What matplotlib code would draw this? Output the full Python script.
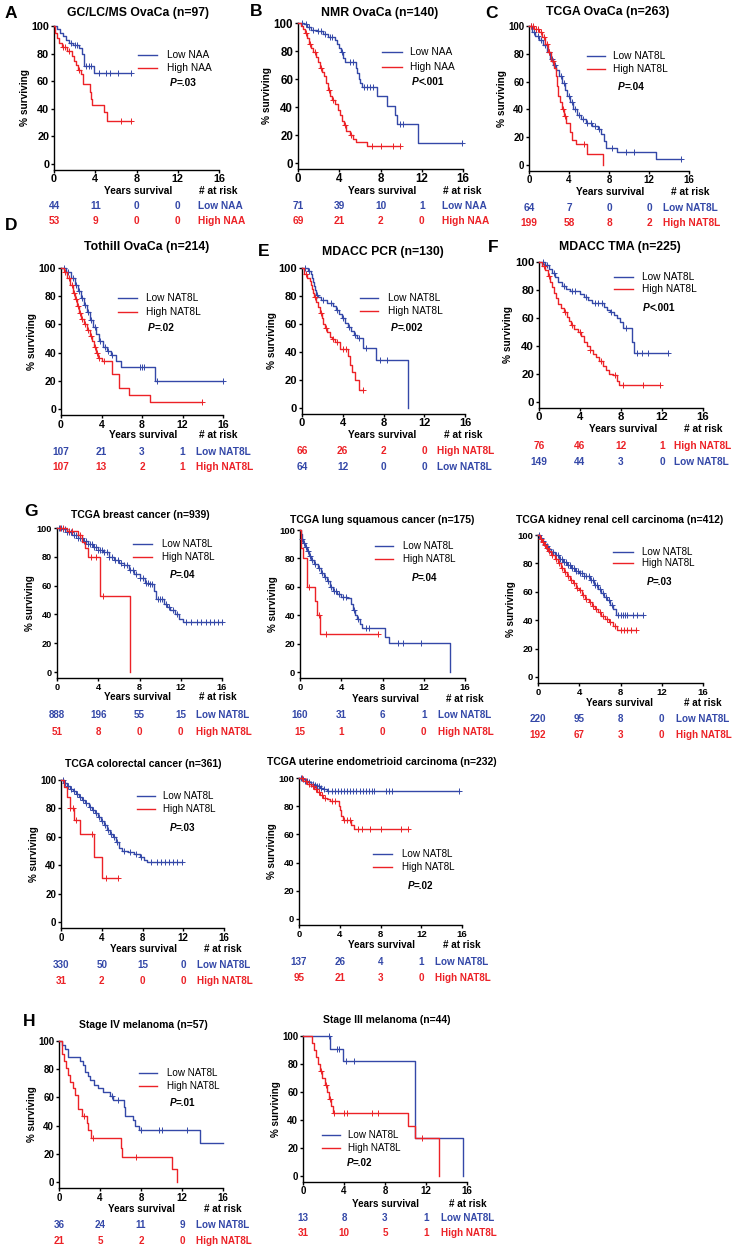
import numpy as np
import matplotlib
matplotlib.use('Agg')
import matplotlib.pyplot as plt
from matplotlib.lines import Line2D
from matplotlib.transforms import blended_transform_factory

plt.rcParams['font.family'] = ['Liberation Sans', 'DejaVu Sans']

W, H = 735, 1250
BLUE = '#3448a8'
RED = '#ec2227'

# ---------------- data (times in years, survival in %) ----------------
# A  GC/LC/MS OvaCa
a_low_t = [0, 0.3, 0.6, 0.9, 1.2, 1.5, 1.8, 2.4, 2.7, 2.9, 3.9]
a_low_s = [100, 98, 95, 93, 90, 88, 86, 84, 80, 71, 66]
a_low_cens = [1.6, 2.0, 2.2, 3.1, 3.4, 3.6, 4.4, 5.0, 5.4, 6.2, 7.5]
a_high_t = [0, 0.1, 0.25, 0.5, 0.8, 1.3, 1.7, 1.9, 2.1, 2.3, 2.6, 2.8, 3.5, 3.6, 3.7, 4.8, 5.1]
a_high_s = [100, 95, 91, 88, 85, 82, 78, 75, 72, 68, 65, 58, 52, 47, 43, 38, 31]
a_high_cens = [0.9, 1.1, 1.5, 2.4, 6.5, 7.5]
risk_a_low = [44, 11, 0, 0]
risk_a_high = [53, 9, 0, 0]

# B  NMR OvaCa
b_low_t = [0, 0.6, 0.9, 1.3, 1.8, 2.4, 2.9, 3.6, 3.8, 4.0, 4.2, 4.4, 4.6, 5.6, 5.75, 5.9, 6.05, 6.2, 7.7, 8.6, 9.4, 9.6, 11.6]
b_low_s = [100, 99, 97, 95, 94, 92, 90, 88, 85, 82, 79, 75, 72, 68, 64, 60, 57, 54, 48, 41, 34, 28, 14]
b_low_cens = [0.4, 0.8, 1.1, 1.5, 1.9, 2.2, 2.6, 3.1, 3.3, 4.3, 5.0, 5.3, 6.4, 6.7, 7.0, 7.3, 9.9, 10.2, 15.9]
b_high_t = [0, 0.3, 0.5, 0.7, 0.9, 1.1, 1.3, 1.5, 1.7, 1.9, 2.1, 2.3, 2.5, 2.7, 2.9, 3.1, 3.3, 3.6, 3.9, 4.1, 4.3, 4.5, 4.7, 5.0, 5.3, 5.6, 6.7]
b_high_s = [100, 98, 96, 93, 89, 85, 82, 79, 76, 72, 68, 65, 62, 57, 52, 48, 45, 42, 38, 34, 30, 27, 23, 20, 17, 15, 12]
b_high_cens = [0.8, 1.2, 1.6, 2.2, 3.0, 3.4, 4.6, 5.1, 7.2, 8.0, 9.2, 9.9]
risk_b_low = [71, 39, 10, 1]
risk_b_high = [69, 21, 2, 0]

# C  TCGA OvaCa
c_low_t = [0, 0.3, 0.6, 1.0, 1.4, 1.8, 2.1, 2.4, 2.7, 3.0, 3.3, 3.6, 3.8, 4.1, 4.4, 4.8, 5.2, 5.7, 6.3, 6.9, 7.2, 7.5, 7.7, 8.8, 12.7]
c_low_s = [100, 96, 93, 90, 86, 81, 76, 72, 68, 64, 59, 54, 50, 45, 40, 36, 33, 30, 28, 26, 22, 17, 12, 9, 4]
c_low_cens = [0.2, 0.5, 0.9, 1.2, 1.6, 2.0, 2.3, 2.6, 3.2, 3.5, 4.0, 4.3, 4.6, 5.0, 5.4, 5.8, 6.2, 6.6, 7.0, 8.3, 9.7, 10.5, 15.2]
c_high_t = [0, 0.5, 1.0, 1.3, 1.6, 1.9, 2.2, 2.5, 2.7, 2.8, 2.9, 3.1, 3.3, 3.5, 3.7, 4.1, 4.3, 4.7, 5.8, 7.4]
c_high_s = [100, 98, 96, 92, 87, 81, 75, 70, 64, 57, 50, 45, 40, 35, 30, 24, 18, 15, 8, 0]
c_high_cens = [0.2, 0.4, 0.7, 0.9, 1.2, 1.5, 1.8, 2.0, 2.4, 3.4, 3.6, 5.5]
risk_c_low = [64, 7, 0, 0]
risk_c_high = [199, 58, 8, 2]

# D  Tothill OvaCa
d_low_t = [0, 0.5, 1.0, 1.4, 1.7, 2.0, 2.3, 2.6, 2.9, 3.2, 3.5, 3.8, 4.1, 4.5, 4.9, 5.4, 5.9, 9.3]
d_low_s = [100, 97, 93, 88, 84, 79, 74, 69, 63, 58, 53, 48, 44, 41, 38, 34, 30, 20]
d_low_cens = [0.3, 0.7, 1.2, 1.5, 1.8, 2.1, 2.4, 2.7, 3.0, 3.4, 3.9, 4.3, 4.6, 5.0, 7.8, 8.0, 8.2, 9.5, 16]
d_high_t = [0, 0.3, 0.6, 0.9, 1.2, 1.4, 1.6, 1.8, 2.0, 2.3, 2.6, 2.9, 3.1, 3.3, 3.5, 3.7, 4.0, 5.0, 5.75, 6.7, 8.8]
d_high_s = [100, 97, 93, 88, 82, 78, 73, 68, 64, 60, 56, 52, 48, 44, 40, 36, 34, 24.5, 15, 10, 5]
d_high_cens = [0.4, 0.8, 1.1, 1.3, 1.5, 1.7, 1.9, 2.1, 2.4, 2.7, 3.0, 3.4, 3.6, 3.8, 4.2, 13.9]
risk_d_low = [107, 21, 3, 1]
risk_d_high = [107, 13, 2, 1]

# E  MDACC PCR
e_low_t = [0, 0.6, 0.9, 1.0, 1.1, 1.2, 1.3, 1.4, 1.6, 1.9, 2.5, 3.0, 3.3, 3.6, 3.9, 4.2, 4.5, 4.8, 5.1, 5.4, 6.0, 7.3, 10.4]
e_low_s = [100, 98, 96, 93, 90, 87, 84, 81, 79, 77, 75, 73, 70, 67, 64, 61, 58, 55, 52, 50, 43, 34, 0]
e_low_cens = [0.3, 0.7, 1.5, 2.1, 2.8, 3.4, 4.0, 4.6, 5.2, 5.6, 6.3, 7.7, 8.3]
e_high_t = [0, 0.2, 0.5, 0.8, 0.9, 1.0, 1.1, 1.2, 1.4, 1.6, 1.8, 2.0, 2.1, 2.3, 2.5, 2.7, 2.9, 3.2, 3.7, 4.5, 4.7, 4.9, 5.2, 5.6]
e_high_s = [100, 96, 93, 91, 88, 85, 82, 79, 76, 72, 68, 64, 60, 57, 54, 51, 49, 47, 42, 37, 31, 26, 20, 13]
e_high_cens = [0.4, 1.3, 1.9, 2.4, 3.0, 3.4, 4.0, 4.3, 6.0]
risk_e_high = [66, 26, 2, 0]
risk_e_low = [64, 12, 0, 0]

# F  MDACC TMA
f_low_t = [0, 0.6, 1.0, 1.3, 1.6, 1.9, 2.2, 2.6, 3.0, 4.0, 4.4, 4.8, 5.2, 6.3, 6.6, 6.9, 7.3, 7.6, 7.9, 8.2, 9.1, 9.25]
f_low_s = [100, 98, 95, 92, 89, 86, 83, 81, 79, 77, 75, 73, 71, 68, 66, 64, 62, 60, 57, 53, 43, 35]
f_low_cens = [0.4, 0.8, 1.5, 2.4, 3.2, 3.5, 4.6, 5.5, 5.8, 6.1, 7.0, 8.5, 9.6, 10.0, 10.6, 12.6]
f_high_t = [0, 0.3, 0.6, 0.9, 1.1, 1.3, 1.5, 1.7, 1.9, 2.1, 2.4, 2.7, 2.9, 3.1, 3.4, 3.8, 4.1, 4.4, 4.7, 5.0, 5.3, 5.6, 5.9, 6.2, 6.5, 6.8, 7.2, 7.6, 7.8]
f_high_s = [100, 97, 94, 90, 86, 82, 78, 74, 70, 67, 64, 61, 58, 55, 52, 50, 47, 43, 40, 37, 34, 32, 29, 26, 23, 20, 19, 15, 12]
f_high_cens = [0.5, 1.0, 2.5, 3.2, 4.0, 5.0, 6.0, 7.4, 8.2, 10.1, 11.8]
risk_f_high = [76, 46, 12, 1]
risk_f_low = [149, 44, 3, 0]

# G  TCGA breast
br_low_t = [0, 0.5, 1.0, 1.5, 2.0, 2.5, 3.0, 3.5, 4.0, 4.5, 5.0, 5.5, 6.0, 6.5, 7.0, 7.5, 8.0, 8.5, 9.0, 9.4, 9.6, 10.4, 10.7, 11.0, 11.4, 11.8, 12.2]
br_low_s = [100, 99, 97, 95, 93, 91, 89, 87, 85, 83, 80, 78, 76, 74, 71, 68, 65, 62, 61, 56, 51, 47, 45, 43, 40, 37, 35]
br_low_cens = [0.2, 0.4, 0.6, 0.8, 1.0, 1.2, 1.4, 1.6, 1.8, 2.0, 2.2, 2.4, 2.6, 2.8, 3.0, 3.2, 3.4, 3.6, 3.8,
               4.0, 4.2, 4.4, 4.6, 4.8, 5.0, 5.3, 5.6, 5.9, 6.2, 6.5, 6.8, 7.1, 7.4, 7.7, 8.0, 8.3, 8.6, 8.8,
               9.0, 9.2, 9.8, 10.0, 10.2, 10.6, 10.9, 11.2, 11.6, 12.5, 13.0, 13.6, 14.0, 14.4, 14.8, 15.2, 15.6, 16.0]
br_high_t = [0, 1.0, 2.0, 2.4, 2.7, 3.0, 4.2, 7.1]
br_high_s = [100, 98, 95, 90, 86, 80, 53, 0]
br_high_cens = [0.3, 0.6, 1.2, 1.5, 2.2, 3.3, 3.8, 4.5]
risk_br_low = [888, 196, 55, 15]
risk_br_high = [51, 8, 0, 0]

# G  TCGA lung squamous
lu_low_t = [0, 0.1, 0.2, 0.3, 0.5, 0.7, 0.9, 1.1, 1.4, 1.7, 2.0, 2.3, 2.6, 2.9, 3.2, 3.6, 4.0, 4.6, 4.9, 5.1, 5.3, 5.5, 5.8, 6.0, 8.2, 8.65, 14.5]
lu_low_s = [100, 97, 94, 91, 88, 85, 82, 79, 76, 73, 70, 67, 64, 60, 57, 55, 53, 52, 48, 44, 40, 37, 34, 31, 25, 20.5, 0]
lu_low_cens = [0.2, 0.4, 0.6, 0.8, 1.0, 1.2, 1.5, 1.8, 2.1, 2.4, 2.7, 3.0, 3.3, 3.5, 3.8, 4.2, 4.5, 5.2, 5.6, 6.4, 6.7, 9.5, 10.0, 11.7]
lu_high_t = [0, 0.1, 0.3, 0.7, 1.45, 1.6, 1.9]
lu_high_s = [100, 87, 80, 60, 50, 40, 27]
lu_high_cens = [0.9, 1.8, 2.5, 7.6]
risk_lu_low = [160, 31, 6, 1]
risk_lu_high = [15, 1, 0, 0]

# G  TCGA kidney renal cell
ki_low_t = [0, 0.2, 0.4, 0.6, 0.8, 1.0, 1.3, 1.6, 2.0, 2.4, 2.8, 3.2, 3.6, 4.0, 4.5, 5.0, 5.4, 5.8, 6.1, 6.4, 6.7, 7.0, 7.3, 7.6]
ki_low_s = [100, 98, 96, 94, 92, 90, 88, 86, 83, 81, 79, 77, 75, 73, 71, 68, 65, 62, 59, 56, 54, 51, 48, 44]
ki_low_cens = [0.1, 0.3, 0.5, 0.7, 0.9, 1.1, 1.3, 1.5, 1.7, 1.9, 2.1, 2.3, 2.5, 2.7, 2.9, 3.1, 3.3, 3.5, 3.7,
               3.9, 4.1, 4.3, 4.5, 4.7, 4.9, 5.1, 5.3, 5.5, 5.7, 6.0, 6.3, 6.6, 6.9, 7.2, 7.8, 8.0, 8.2, 8.4,
               8.6, 9.2, 9.6, 10.2]
ki_high_t = [0, 0.2, 0.4, 0.6, 0.8, 1.0, 1.3, 1.6, 1.9, 2.2, 2.5, 2.8, 3.1, 3.4, 3.7, 4.0, 4.3, 4.6, 4.9, 5.2, 5.5, 5.8, 6.1, 6.5, 6.9, 7.3, 7.7]
ki_high_s = [100, 97, 95, 93, 91, 89, 86, 83, 80, 77, 74, 71, 68, 66, 63, 61, 58, 55, 53, 50, 48, 46, 43, 41, 39, 36, 33]
ki_high_cens = [0.3, 0.5, 0.7, 0.9, 1.1, 1.4, 1.7, 2.0, 2.3, 2.6, 2.9, 3.2, 3.5, 3.8, 4.1, 4.4, 4.7, 5.0,
                5.3, 5.6, 6.0, 6.3, 6.7, 7.0, 7.5, 8.0, 8.3, 8.6, 9.0, 9.5]
risk_ki_low = [220, 95, 8, 0]
risk_ki_high = [192, 67, 3, 0]

# G  TCGA colorectal
co_low_t = [0, 0.3, 0.6, 0.9, 1.2, 1.5, 1.8, 2.1, 2.4, 2.7, 3.0, 3.3, 3.6, 3.9, 4.2, 4.5, 4.8, 5.1, 5.4, 5.7, 6.0, 6.6, 7.2, 7.8, 8.1, 8.4]
co_low_s = [100, 98, 96, 94, 92, 90, 88, 86, 84, 81, 79, 77, 74, 71, 68, 65, 62, 60, 56, 52, 50, 49, 48, 46, 44, 42]
co_low_cens = [0.2, 0.4, 0.7, 1.0, 1.3, 1.6, 1.9, 2.2, 2.5, 2.8, 3.1, 3.4, 3.7, 4.0, 4.3, 4.6, 4.9, 5.2,
               5.5, 6.2, 6.8, 7.4, 7.9, 8.8, 9.4, 9.8, 10.2, 10.6, 11.0, 11.4, 11.9]
co_high_t = [0, 0.3, 0.6, 0.9, 1.3, 1.9, 3.2, 4.0]
co_high_s = [100, 95, 88, 80, 72, 62, 46, 31]
co_high_cens = [0.9, 1.2, 1.5, 3.0, 4.4, 5.6]
risk_co_low = [330, 50, 15, 0]
risk_co_high = [31, 2, 0, 0]

# G  TCGA uterine endometrioid
ut_low_t = [0, 0.3, 0.6, 0.9, 1.2, 1.5, 1.8, 2.1, 2.4, 2.7, 3.0]
ut_low_s = [100, 99, 98, 97, 96, 95, 94, 93, 92, 91, 90.5]
ut_low_cens = [0.2, 0.4, 0.6, 0.8, 1.0, 1.2, 1.4, 1.6, 1.8, 2.0, 2.2, 2.5, 2.8, 3.2, 3.5, 3.8, 4.1, 4.4,
               4.7, 5.0, 5.3, 5.6, 6.0, 6.3, 6.6, 6.9, 7.2, 7.4, 8.5, 8.8, 9.1, 15.7]
ut_high_t = [0, 0.4, 0.8, 1.2, 1.5, 1.8, 2.1, 2.4, 2.7, 3.0, 3.9, 4.0, 4.1, 4.3, 5.1, 5.4]
ut_high_s = [100, 98, 96, 94, 92, 90, 88, 86, 85, 84, 80, 77, 73, 70, 67, 64]
ut_high_cens = [0.3, 0.7, 1.0, 1.4, 1.7, 2.0, 2.3, 2.6, 3.2, 3.5, 4.4, 4.7, 5.0, 5.8, 6.2, 7.0, 8.0, 10.0, 10.7]
risk_ut_low = [137, 26, 4, 1]
risk_ut_high = [95, 21, 3, 0]

# H  Stage IV melanoma
m4_low_t = [0, 0.3, 0.6, 0.9, 2.0, 2.3, 2.5, 2.8, 3.0, 3.4, 3.8, 4.3, 5.0, 5.3, 6.3, 6.45, 7.2, 7.4, 7.8, 13.8]
m4_low_s = [100, 97, 94, 89, 86, 83, 78, 75, 72, 69, 67, 64, 61, 58, 53, 47, 44, 40, 37, 28]
m4_low_cens = [5.2, 5.8, 8.0, 9.8, 10.0, 12.5]
m4_high_t = [0, 0.3, 0.5, 0.7, 0.9, 1.1, 1.4, 1.6, 1.9, 2.2, 2.75, 2.85, 3.15, 6.0, 6.15, 11.0, 11.5]
m4_high_s = [100, 91, 86, 81, 76, 71, 67, 62, 52, 47, 42, 37, 31, 24, 18, 9, 0]
m4_high_cens = [2.4, 3.3, 7.5]
risk_m4_low = [36, 24, 11, 9]
risk_m4_high = [21, 5, 2, 0]

# H  Stage III melanoma
m3_low_t = [0, 2.6, 3.9, 10.9, 15.6]
m3_low_s = [100, 91, 82, 27, 0]
m3_low_cens = [2.5, 3.3, 3.5, 4.2, 5.0]
m3_high_t = [0, 0.9, 1.1, 1.3, 1.5, 1.7, 1.9, 2.1, 2.3, 2.5, 2.7, 2.9, 10.2, 10.9, 13.3]
m3_high_s = [100, 95, 90, 85, 80, 75, 70, 65, 60, 55, 50, 45, 36, 27, 0]
m3_high_cens = [1.8, 2.2, 2.6, 3.0, 4.0, 4.3, 6.7, 7.3, 11.6]
risk_m3_low = [13, 8, 3, 1]
risk_m3_high = [31, 10, 5, 1]

fig = plt.figure(figsize=(W / 100, H / 100), dpi=100)


def fy(y):
    return 1 - y / H


def km(ax, t, s, end, cens, color, ms):
    tt = list(t) + [end]
    ss = list(s) + [s[-1]]
    ax.step(tt, ss, where='post', color=color, lw=1.0, clip_on=False, zorder=3)
    ta = np.array(t)
    sa = np.array(s)
    cy = [sa[np.searchsorted(ta, c, side='right') - 1] for c in cens]
    ax.plot(cens, cy, ls='none', marker='+', ms=ms, mew=0.7, color=color, clip_on=False, zorder=3)


def panel(geom, tks, fs, tfs, title, tpos, low, high, names, leg, ptxt, ppos, ys, riskx, rows, labx):
    x0, x16, y100, y0 = geom
    k = (y0 - y100) / 100
    ybot = y0 + 4 * k
    ax = fig.add_axes([x0 / W, fy(ybot), (x16 - x0) / W, (ybot - y100) / H])
    ax.set_xlim(0, 16)
    ax.set_ylim(-4, 100)
    ms = tks * 0.6
    km(ax, *low, BLUE, ms)
    km(ax, *high, RED, ms)
    ax.spines[['top', 'right']].set_visible(False)
    ax.spines[['left', 'bottom']].set_linewidth(1.0)
    ax.set_xticks([0, 4, 8, 12, 16])
    ax.set_yticks([0, 20, 40, 60, 80, 100])
    ax.tick_params(length=2.5, width=1.0, labelsize=tks, pad=1)
    for lb in ax.get_xticklabels() + ax.get_yticklabels():
        lb.set_fontweight('bold')
    ax.set_ylabel('% surviving', fontsize=fs, fontweight='bold', labelpad=1)

    fig.text(tpos[0] / W, fy(tpos[1]), title, ha='center', va='center', fontsize=tfs, fontweight='bold')

    x1, x2, ya, yb, xt = leg
    for y, c, nm in ((ya, BLUE, names[0]), (yb, RED, names[1])):
        fig.add_artist(Line2D([x1 / W, x2 / W], [fy(y), fy(y)], color=c, lw=1.0))
        fig.text(xt / W, fy(y), nm, ha='left', va='center', fontsize=fs)

    fig.text(ppos[0] / W, fy(ppos[1]), 'P', ha='left', va='center', fontsize=fs,
             fontweight='bold', style='italic')
    fig.text((ppos[0] + 0.62 * fs * 100 / 72) / W, fy(ppos[1]), ptxt, ha='left', va='center',
             fontsize=fs, fontweight='bold')

    fig.text(ys[0] / W, fy(ys[1]), 'Years survival', ha='center', va='center', fontsize=fs, fontweight='bold')
    fig.text(riskx / W, fy(ys[1]), '# at risk', ha='center', va='center', fontsize=fs, fontweight='bold')

    tr = blended_transform_factory(ax.transData, fig.transFigure)
    for vals, nm, c, y in rows:
        for xv, v in zip([0, 4, 8, 12], vals):
            ax.text(xv, fy(y), str(v), transform=tr, ha='center', va='center', color=c,
                    fontsize=fs, fontweight='bold')
        fig.text(labx / W, fy(y), nm, ha='left', va='center', color=c, fontsize=fs, fontweight='bold')
    return ax


NAA = ('Low NAA', 'High NAA')
NAT = ('Low NAT8L', 'High NAT8L')
T1, S1 = 8.8, 7.3   # title / text size, ovarian rows
T2, S2 = 7.5, 7.1   # title / text size, G and H

panel((54, 219, 26, 164), 7.8, S1, T1, 'GC/LC/MS OvaCa (n=97)', (138, 13),
      (a_low_t, a_low_s, 7.5, a_low_cens), (a_high_t, a_high_s, 7.5, a_high_cens), NAA,
      (138, 157, 55, 68, 167), '=.03', (170, 83), (138, 191), 218,
      [(risk_a_low, 'Low NAA', BLUE, 206), (risk_a_high, 'High NAA', RED, 221)], 198)

panel((298, 463, 23, 163), 8.3, S1, T1, 'NMR OvaCa (n=140)', (380, 13),
      (b_low_t, b_low_s, 15.9, b_low_cens), (b_high_t, b_high_s, 9.9, b_high_cens), NAA,
      (382, 402, 52, 67, 410), '<.001', (412, 82), (382, 191), 462,
      [(risk_b_low, 'Low NAA', BLUE, 206), (risk_b_high, 'High NAA', RED, 221)], 442)

panel((529, 689, 26, 165), 7.0, S1, T1, 'TCGA OvaCa (n=263)', (608, 12),
      (c_low_t, c_low_s, 15.2, c_low_cens), (c_high_t, c_high_s, 7.4, c_high_cens), NAT,
      (587, 605, 56, 69, 613), '=.04', (618, 87), (610, 192), 690,
      [(risk_c_low, 'Low NAT8L', BLUE, 208), (risk_c_high, 'High NAT8L', RED, 223)], 663)

panel((61, 223, 268, 409), 7.6, S1, T1, 'Tothill OvaCa (n=214)', (147, 247),
      (d_low_t, d_low_s, 16, d_low_cens), (d_high_t, d_high_s, 13.9, d_high_cens), NAT,
      (118, 137, 298, 312, 146), '=.02', (148, 328), (143, 435), 218,
      [(risk_d_low, 'Low NAT8L', BLUE, 452), (risk_d_high, 'High NAT8L', RED, 467)], 196)

panel((302, 465, 268, 408), 8.0, S1, T1, 'MDACC PCR (n=130)', (383, 252),
      (e_low_t, e_low_s, 10.4, e_low_cens), (e_high_t, e_high_s, 6.0, e_high_cens), NAT,
      (360, 378, 298, 311, 388), '=.002', (391, 328), (382, 435), 463,
      [(risk_e_high, 'High NAT8L', RED, 451), (risk_e_low, 'Low NAT8L', BLUE, 467)], 437)

panel((539, 703, 262, 402), 8.2, S1, T1, 'MDACC TMA (n=225)', (620, 247),
      (f_low_t, f_low_s, 12.6, f_low_cens), (f_high_t, f_high_s, 11.8, f_high_cens), NAT,
      (614, 633, 277, 289, 642), '<.001', (643, 308), (623, 429), 703,
      [(risk_f_high, 'High NAT8L', RED, 446), (risk_f_low, 'Low NAT8L', BLUE, 462)], 674)

panel((57, 222, 528, 672), 6.6, S2, T2, 'TCGA breast cancer (n=939)', (140, 515),
      (br_low_t, br_low_s, 16, br_low_cens), (br_high_t, br_high_s, 7.1, br_high_cens), NAT,
      (133, 152, 544, 557, 162), '=.04', (170, 575), (138, 697), 218,
      [(risk_br_low, 'Low NAT8L', BLUE, 715), (risk_br_high, 'High NAT8L', RED, 732)], 196)

panel((300, 465, 530, 672), 6.8, S2, T2, 'TCGA lung squamous cancer (n=175)', (382, 520),
      (lu_low_t, lu_low_s, 14.5, lu_low_cens), (lu_high_t, lu_high_s, 7.6, lu_high_cens), NAT,
      (375, 393, 546, 559, 403), '=.04', (412, 578), (385, 699), 465,
      [(risk_lu_low, 'Low NAT8L', BLUE, 715), (risk_lu_high, 'High NAT8L', RED, 732)], 438)

panel((538, 703, 535, 677), 6.8, S2, T2, 'TCGA kidney renal cell carcinoma (n=412)', (620, 520),
      (ki_low_t, ki_low_s, 10.2, ki_low_cens), (ki_high_t, ki_high_s, 9.5, ki_high_cens), NAT,
      (613, 633, 552, 563, 642), '=.03', (647, 582), (620, 703), 703,
      [(risk_ki_low, 'Low NAT8L', BLUE, 719), (risk_ki_high, 'High NAT8L', RED, 735)], 676)

panel((61, 224, 780, 922), 7.0, S2, T2, 'TCGA colorectal cancer (n=361)', (143, 764),
      (co_low_t, co_low_s, 11.9, co_low_cens), (co_high_t, co_high_s, 5.6, co_high_cens), NAT,
      (137, 155, 796, 809, 163), '=.03', (170, 828), (143, 949), 223,
      [(risk_co_low, 'Low NAT8L', BLUE, 965), (risk_co_high, 'High NAT8L', RED, 981)], 197)

panel((299, 462, 778, 919), 6.8, S2, T2, 'TCGA uterine endometrioid carcinoma (n=232)', (382, 762),
      (ut_low_t, ut_low_s, 15.7, ut_low_cens), (ut_high_t, ut_high_s, 10.7, ut_high_cens), NAT,
      (373, 392, 854, 867, 402), '=.02', (408, 886), (382, 945), 462,
      [(risk_ut_low, 'Low NAT8L', BLUE, 962), (risk_ut_high, 'High NAT8L', RED, 978)], 435)

panel((59, 223, 1041, 1182), 7.0, S2, T2, 'Stage IV melanoma (n=57)', (143, 1025),
      (m4_low_t, m4_low_s, 16, m4_low_cens), (m4_high_t, m4_high_s, 11.5, m4_high_cens), NAT,
      (139, 157, 1073, 1086, 167), '=.01', (170, 1103), (142, 1209), 223,
      [(risk_m4_low, 'Low NAT8L', BLUE, 1225), (risk_m4_high, 'High NAT8L', RED, 1241)], 196)

panel((303, 467, 1036, 1176), 7.0, S2, T2, 'Stage III melanoma (n=44)', (387, 1020),
      (m3_low_t, m3_low_s, 15.6, m3_low_cens), (m3_high_t, m3_high_s, 13.3, m3_high_cens), NAT,
      (322, 340, 1135, 1148, 348), '=.02', (347, 1163), (385, 1204), 468,
      [(risk_m3_low, 'Low NAT8L', BLUE, 1218), (risk_m3_high, 'High NAT8L', RED, 1233)], 441)

# panel letters
for letter, x, y in (('A', 11, 14), ('B', 256, 12), ('C', 491, 14), ('D', 11, 226),
                     ('E', 264, 252), ('F', 493, 247), ('G', 31, 512), ('H', 29, 1022)):
    fig.text(x / W, fy(y), letter, ha='center', va='center', fontsize=12.5, fontweight='bold')

fig.savefig('out.png', dpi=100)
